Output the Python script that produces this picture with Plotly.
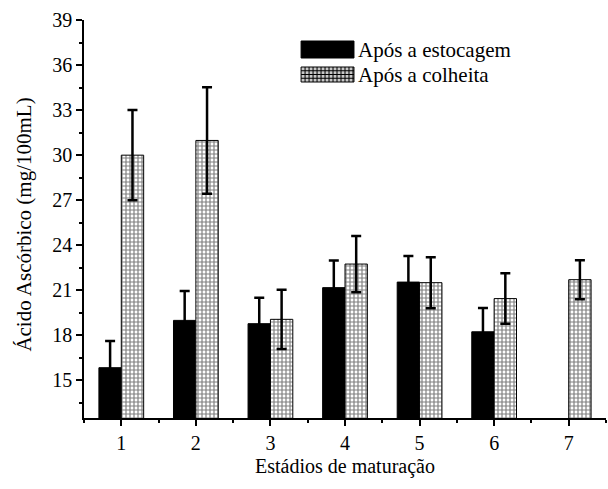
import plotly.graph_objects as go

stages = [1, 2, 3, 4, 5, 6, 7]
estocagem = [15.85, 19.0, 18.78, 21.18, 21.55, 18.24, None]
estocagem_err = [1.77, 1.95, 1.72, 1.8, 1.74, 1.58, None]
colheita = [30.0, 30.98, 19.07, 22.75, 21.51, 20.45, 21.71]
colheita_err = [3.0, 3.55, 1.97, 1.87, 1.7, 1.68, 1.3]

series_names = ["Após a estocagem", "Após a colheita"]
x_title = "Estádios de maturação"
y_title = "Ácido Ascórbico (mg/100mL)"

FONT = "Liberation Serif"
FS = 20

fig = go.Figure()
fig.add_trace(go.Bar(
    x=stages, y=estocagem, name=series_names[0],
    marker=dict(color="black", line=dict(color="black", width=1)),
    error_y=dict(type="data", array=estocagem_err, color="black", thickness=2.5, width=5),
    showlegend=False,
))
fig.add_trace(go.Bar(
    x=stages, y=colheita, name=series_names[1],
    marker=dict(color="white", line=dict(color="black", width=1),
                pattern=dict(shape="+", size=4, solidity=0.5,
                             fgcolor="black", bgcolor="white", fillmode="overlay")),
    error_y=dict(type="data", array=colheita_err, color="black",
                 thickness=2.5, width=5),
    showlegend=False,
))

# Plot area in pixels (for converting the manual legend position)
L, R, T, B = 83.5, 1.5, 20, 71
W, H = 608, 489
pw, ph = W - L - R, H - T - B

def px(xp):
    return (xp - L) / pw

def py(yp):
    return (H - B - yp) / ph

shapes = []
# legend swatch 1 (solid black)
shapes.append(dict(type="rect", xref="paper", yref="paper",
                   x0=px(301), x1=px(354), y0=py(58), y1=py(41),
                   fillcolor="black", line=dict(color="black", width=1)))
# legend swatch 2 (grid)
shapes.append(dict(type="rect", xref="paper", yref="paper",
                   x0=px(301), x1=px(354), y0=py(82), y1=py(67),
                   fillcolor="#c8c8c8", line=dict(color="black", width=1)))
xg = 301 + 4
while xg < 354:
    shapes.append(dict(type="line", xref="paper", yref="paper",
                       x0=px(xg), x1=px(xg), y0=py(82), y1=py(67),
                       line=dict(color="black", width=1)))
    xg += 4
yg = 67 + 3.75
while yg < 82:
    shapes.append(dict(type="line", xref="paper", yref="paper",
                       x0=px(301), x1=px(354), y0=py(yg), y1=py(yg),
                       line=dict(color="black", width=1)))
    yg += 3.75

annotations = [
    dict(text=series_names[0], xref="paper", yref="paper", x=px(356), y=py(49.5),
         xanchor="left", yanchor="middle", showarrow=False,
         font=dict(family=FONT, size=21, color="black")),
    dict(text=series_names[1], xref="paper", yref="paper", x=px(356), y=py(74.5),
         xanchor="left", yanchor="middle", showarrow=False,
         font=dict(family=FONT, size=21, color="black")),
    dict(text=y_title, xref="paper", yref="paper", x=px(23), y=py(225),
         xanchor="center", yanchor="middle", textangle=-90, showarrow=False,
         font=dict(family=FONT, size=21, color="black")),
]

fig.update_layout(
    width=W, height=H,
    margin=dict(l=L, r=R, t=T, b=B, pad=0),
    paper_bgcolor="white", plot_bgcolor="white",
    barmode="group", bargap=0.4, bargroupgap=0,
    font=dict(family=FONT, size=FS, color="black"),
    shapes=shapes, annotations=annotations,
    showlegend=False,
)
fig.update_xaxes(
    range=[0.5, 7.5], tickmode="array", tickvals=stages, ticktext=[str(s) for s in stages],
    showgrid=False, zeroline=False, showline=True, linecolor="black", linewidth=1.5,
    ticks="outside", ticklen=6, tickwidth=1.5, tickcolor="black",
    minor=dict(dtick=0.5, tick0=0.5, ticks="outside", ticklen=3, tickwidth=1.5, tickcolor="black", showgrid=False),
    tickfont=dict(family=FONT, size=FS, color="black"),
    title=dict(text=x_title, font=dict(family=FONT, size=FS, color="black"), standoff=6),
)
fig.update_yaxes(
    range=[12.5, 39], dtick=3, tick0=0,
    showgrid=False, zeroline=False, showline=True, linecolor="black", linewidth=1.5,
    ticks="outside", ticklen=6, tickwidth=1.5, tickcolor="black",
    minor=dict(dtick=1.5, tick0=0, ticks="outside", ticklen=3, tickwidth=1.5, tickcolor="black", showgrid=False),
    tickfont=dict(family=FONT, size=FS, color="black"),
)

fig.write_html("out.html")
